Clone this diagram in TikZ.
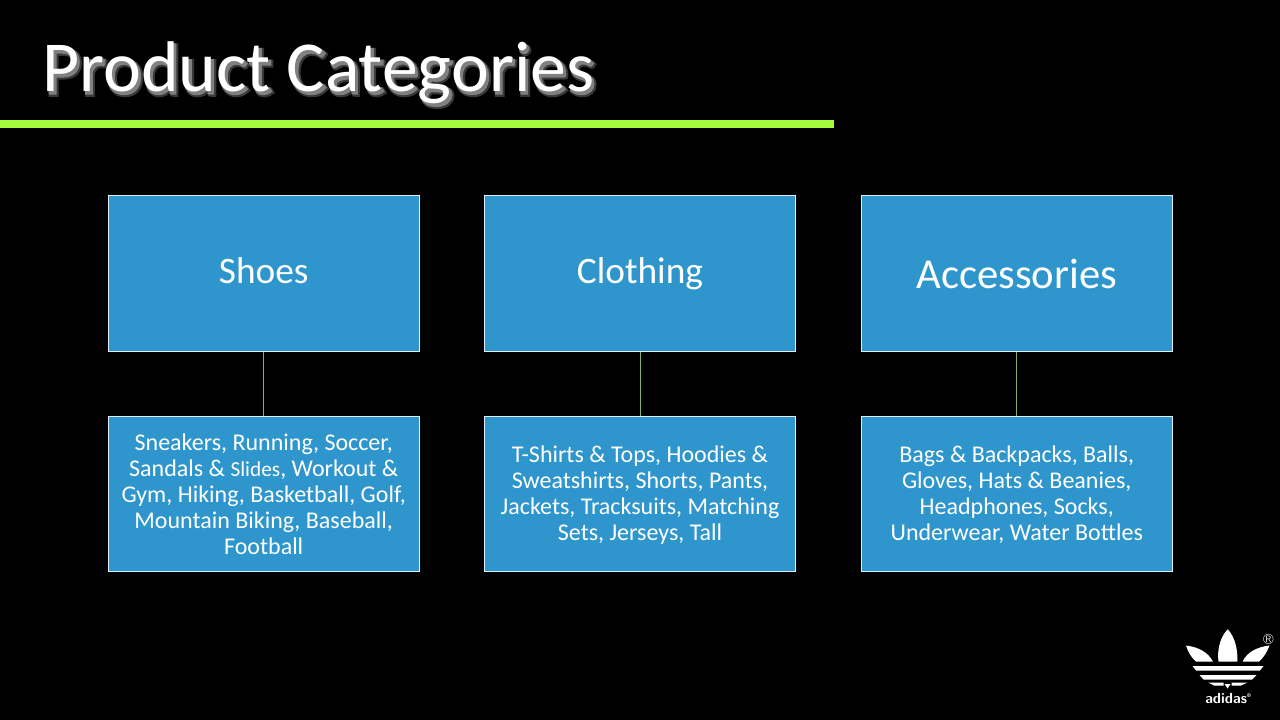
\documentclass[tikz,border=0pt]{standalone}
\usepackage{fontspec}
\setmainfont{Carlito}
\definecolor{boxblue}{RGB}{46,150,205}
\definecolor{rulegreen}{RGB}{166,250,62}
\definecolor{linkgreen}{RGB}{130,175,105}
\newcommand{\listdrop}{\rule{0pt}{13.8pt}}
\tikzset{
  catbox/.style={draw=white!85!boxblue,fill=boxblue,line width=0.75pt,text=white,minimum width=233.4pt,minimum height=116.6pt,align=center,inner sep=0pt},
  headtext/.style={font=\fontsize{28}{32}\selectfont,text height=20.5pt,text depth=5.4pt},
  listtext/.style={font=\fontsize{18}{19.5}\selectfont},
  link/.style={draw=linkgreen,line width=0.6pt},
  titletext/.style={text=white,font=\fontsize{53.8}{60}\selectfont,anchor=base west,inner sep=0pt},
}
\begin{document}
\begin{tikzpicture}[x=0.75pt,y=0.75pt,yscale=-1,xscale=1]
\useasboundingbox[fill=black] (0,0) rectangle (1280,720);
% title
\node[titletext,text=white!22!black] (glowwide) at (45,95) {\addfontfeature{FakeBold=5}Product Categories};
\node[titletext,text=white!50!black] (glowthin) at (44,94) {\addfontfeature{FakeBold=2}Product Categories};
\node[titletext] (title) at (42,92) {Product Categories};
\fill[rulegreen] (0,120) rectangle (834,128.5);
% top row
\node[catbox,headtext] (shoes) at (263.7,273.5) {Shoes};
\node[catbox,headtext] (clothing) at (640,273.5) {Clothing};
\node[catbox,font=\fontsize{32}{36}\selectfont] (accessories) at (1016.7,273.5) {Accessories};
% bottom row
\node[catbox,listtext] (shoeslist) at (263.7,494) {Sneakers, Running, Soccer,\\Sandals \& {\fontsize{16}{19.5}\selectfont Slides}, Workout \&\\Gym, Hiking, Basketball, Golf,\\Mountain Biking, Baseball,\\Football};
\node[catbox,listtext] (clothinglist) at (640,494) {\listdrop T-Shirts \& Tops, Hoodies \&\\Sweatshirts, Shorts, Pants,\\Jackets, Tracksuits, Matching\\Sets, Jerseys, Tall};
\node[catbox,listtext] (accessorieslist) at (1016.7,494) {\listdrop Bags \& Backpacks, Balls,\\Gloves, Hats \& Beanies,\\Headphones, Socks,\\Underwear, Water Bottles};
% connectors
\draw[link] (shoes) -- (shoeslist);
\draw[link] (clothing) -- (clothinglist);
\draw[link] (accessories) -- (accessorieslist);
% logo
\fill[white] (1227.7,629.3) .. controls (1220,637) and (1217,650) .. (1218.5,661.7) -- (1237.3,661.7) .. controls (1238,650) and (1235,637) .. (1227.7,629.3) -- cycle;
\fill[white] (1186,645.5) .. controls (1198,647) and (1208,652) .. (1213,661.7) -- (1196,661.7) .. controls (1191,657) and (1188,652) .. (1186,645.5) -- cycle;
\fill[white] (1269.5,645.5) .. controls (1257,647) and (1247,652) .. (1242.5,661.7) -- (1259,661.7) .. controls (1264,657) and (1267,652) .. (1269.5,645.5) -- cycle;
\fill[white] (1192.5,666) -- (1263.5,666) -- (1260,670.5) -- (1196,670.5) -- cycle;
\fill[white] (1199.5,675) -- (1256.5,675) -- (1252,679.5) -- (1203.5,679.5) -- cycle;
\fill[white] (1208,682.5) -- (1223.5,682.5) -- (1223.5,685.5) -- (1214,685.5) -- cycle;
\fill[white] (1247.5,682.5) -- (1231.5,682.5) -- (1231.5,685.5) -- (1241,685.5) -- cycle;
\fill[white] (1224.5,684) -- (1230.5,684) -- (1227.5,688.5) -- cycle;
\node[text=white,inner sep=0pt,font=\fontsize{11}{11}\selectfont\sffamily\bfseries,anchor=base west] (logotext) at (1205,703) {adidas\raisebox{4pt}{\fontsize{4}{4}\selectfont\textregistered}};
\node[text=white,inner sep=0pt,font=\fontsize{11}{11}\selectfont\sffamily] (logoreg) at (1268.5,639) {\textregistered};
\end{tikzpicture}
\end{document}
